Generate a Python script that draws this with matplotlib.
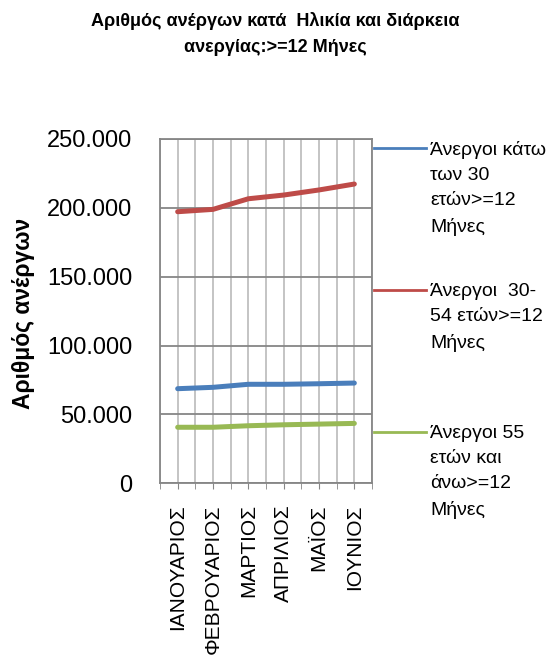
import matplotlib.pyplot as plt
from matplotlib.lines import Line2D
from matplotlib.ticker import FuncFormatter, MultipleLocator

plt.rcParams['font.family'] = ['Liberation Sans', 'DejaVu Sans']

# --- Δεδομένα ---
mines = ['ΙΑΝΟΥΑΡΙΟΣ', 'ΦΕΒΡΟΥΑΡΙΟΣ', 'ΜΑΡΤΙΟΣ', 'ΑΠΡΙΛΙΟΣ', 'ΜΑΪΟΣ', 'ΙΟΥΝΙΟΣ']
kato_30 = [68700, 69700, 71900, 71900, 72300, 72800]
apo_30_54 = [197200, 198900, 206600, 209300, 213000, 217300]
ano_55 = [40700, 40700, 41800, 42500, 43000, 43500]

seires = [
    (kato_30, '#4A7EBB', 'Άνεργοι κάτω\nτων 30\nετών>=12\nΜήνες'),
    (apo_30_54, '#BE4B48', 'Άνεργοι  30-\n54 ετών>=12\nΜήνες'),
    (ano_55, '#98B954', 'Άνεργοι 55\nετών και\nάνω>=12\nΜήνες'),
]

fig = plt.figure(figsize=(5.5, 6.66), dpi=100)
ax = fig.add_axes([0.2909, 0.2743, 0.3855, 0.517])

x = list(range(len(mines)))
for vals, col, lbl in seires:
    ax.plot(x, vals, color=col, lw=3.6, solid_capstyle='round', zorder=3)

ax.set_xlim(-0.5, len(mines) - 0.5)
ax.set_ylim(0, 250000)
ax.yaxis.set_major_locator(MultipleLocator(50000))
ax.yaxis.set_major_formatter(FuncFormatter(
    lambda v, p: '0' if v == 0 else f'{int(v):,}'.replace(',', '.')))
ax.set_xticks(x)
ax.set_xticklabels(mines, rotation=90, fontsize=15)
ax.xaxis.set_minor_locator(MultipleLocator(0.5))
ax.tick_params(axis='x', which='major', length=4, color='#868686', pad=11)
ax.tick_params(axis='x', which='minor', length=4, color='#868686')
ax.tick_params(axis='y', length=0, labelsize=17, pad=20)

ax.grid(axis='y', which='major', color='#868686', lw=1.3)
ax.grid(axis='x', which='both', color='#BFBFBF', lw=1.3)
for s in ax.spines.values():
    s.set_color('#868686')
    s.set_linewidth(1.3)

ax.set_ylabel('Αριθμός ανέργων', fontsize=16.5, fontweight='bold', va='center')
ax.yaxis.set_label_coords(-0.646, 0.493)

fig.text(0.5, 1 - 12 / 666, 'Αριθμός ανέργων κατά  Ηλικία και διάρκεια\nανεργίας:>=12 Μήνες',
         ha='center', va='top', fontsize=13, fontweight='bold', linespacing=1.7)

# --- Υπόμνημα ---
leg_y = [148, 290, 432]
for (vals, col, lbl), yy in zip(seires, leg_y):
    yf = 1 - yy / 666
    fig.add_artist(Line2D([374 / 550, 426 / 550], [yf, yf], color=col, lw=2,
                          transform=fig.transFigure))
    fig.text(430 / 550, yf + 7 / 666, lbl, ha='left', va='top', fontsize=14,
             linespacing=1.63)

fig.savefig('out.png', dpi=100)
